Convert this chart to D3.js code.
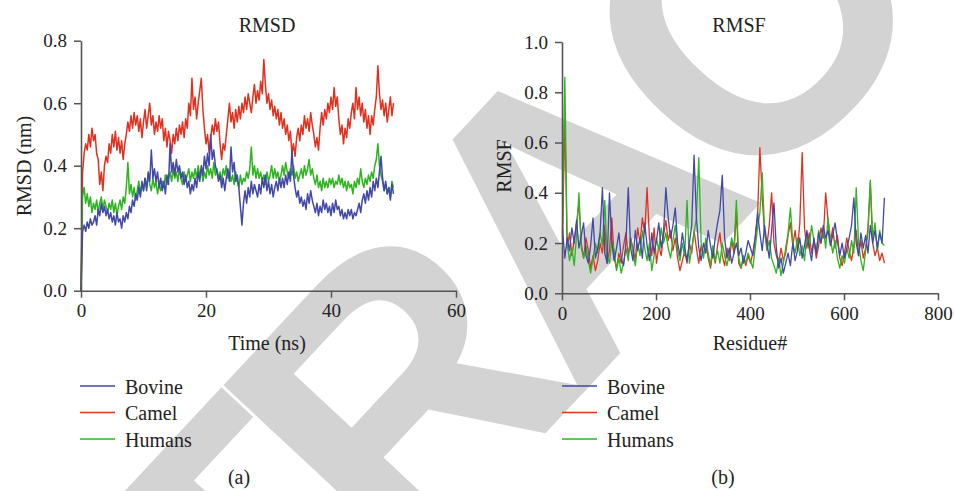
<!DOCTYPE html>
<html>
<head>
<meta charset="utf-8">
<script src="https://cdn.jsdelivr.net/npm/d3@7"></script>
<style>
  body { margin: 0; background: #fff; }
  svg { display: block; }
</style>
</head>
<body>
<svg id="fig" width="954" height="491"></svg>
<script>
// ---- data ----
const seriesNames = ["Bovine", "Camel", "Humans"];

// RMSD, one value every 0.25 ns from 0 to 50 ns
const rmsdStep = 0.25;
const rmsdBovine = [
  0.00, 0.19, 0.21, 0.19, 0.22,
  0.20, 0.23, 0.21, 0.22,  0.24, 0.21, 0.26, 0.24,  0.28, 0.25, 0.27, 0.24,
  0.26, 0.23, 0.25, 0.22,  0.24, 0.21, 0.25, 0.22,  0.23, 0.20, 0.24, 0.22,
  0.25, 0.23, 0.27, 0.25,  0.29, 0.27, 0.31, 0.29,  0.33, 0.30, 0.35, 0.32,
  0.36, 0.32, 0.38, 0.35,  0.45, 0.36, 0.39, 0.35,  0.38, 0.33, 0.36, 0.32,
  0.35, 0.31, 0.37, 0.34,  0.47, 0.38, 0.41, 0.37,  0.42, 0.38, 0.40, 0.36,
  0.38, 0.34, 0.37, 0.33,  0.35, 0.31, 0.34, 0.32,  0.36, 0.33, 0.38, 0.35,
  0.40, 0.37, 0.43, 0.39,  0.44, 0.40, 0.50, 0.42,  0.45, 0.40, 0.38, 0.35,
  0.37, 0.33, 0.36, 0.32,  0.36, 0.39, 0.35, 0.46,  0.38, 0.41, 0.35, 0.37,
  0.33, 0.27, 0.21, 0.28,  0.32, 0.28, 0.33, 0.30,  0.35, 0.31, 0.34, 0.32,
  0.30, 0.34, 0.31, 0.36,  0.33, 0.37, 0.32, 0.35,  0.31, 0.34, 0.30, 0.33,
  0.35, 0.32, 0.36, 0.33,  0.36, 0.33, 0.37, 0.34,  0.38, 0.35, 0.45, 0.37,
  0.33, 0.30, 0.32, 0.28,  0.30, 0.27, 0.29, 0.26,  0.31, 0.28, 0.32, 0.29,
  0.27, 0.25, 0.28, 0.24,  0.27, 0.25, 0.29, 0.26,  0.28, 0.25, 0.27, 0.24,
  0.28, 0.25, 0.29, 0.26,  0.27, 0.24, 0.26, 0.23,  0.25, 0.23, 0.26, 0.24,
  0.26, 0.23, 0.25, 0.24,  0.26, 0.28, 0.25, 0.29,  0.31, 0.28, 0.32, 0.29,
  0.33, 0.30, 0.35, 0.32,  0.36, 0.33, 0.38, 0.43,  0.36, 0.32, 0.35, 0.31,
  0.33, 0.29, 0.34, 0.31
];
const rmsdCamel = [
  0.00, 0.38, 0.44, 0.47, 0.45,
  0.50, 0.46, 0.52, 0.48,  0.50, 0.44, 0.42, 0.34,  0.38, 0.32, 0.40, 0.43,
  0.41, 0.47, 0.44, 0.50,  0.46, 0.51, 0.45, 0.49,  0.44, 0.48, 0.42, 0.47,
  0.50, 0.54, 0.51, 0.56,  0.52, 0.57, 0.53, 0.56,  0.51, 0.55, 0.49, 0.54,
  0.58, 0.52, 0.56, 0.60,  0.53, 0.56, 0.50, 0.54,  0.51, 0.56, 0.52, 0.55,
  0.48, 0.52, 0.46, 0.51,  0.48, 0.44, 0.50, 0.47,  0.52, 0.48, 0.53, 0.50,
  0.54, 0.49, 0.55, 0.52,  0.60, 0.56, 0.68, 0.58,  0.62, 0.55, 0.60, 0.64,
  0.68, 0.58, 0.52, 0.47,  0.50, 0.44, 0.49, 0.53,  0.50, 0.55, 0.51, 0.54,
  0.47, 0.42, 0.47, 0.45,  0.50, 0.55, 0.60, 0.54,  0.57, 0.52, 0.58, 0.54,
  0.59, 0.55, 0.60, 0.57,  0.62, 0.58, 0.63, 0.60,  0.57, 0.62, 0.66, 0.60,
  0.64, 0.61, 0.67, 0.63,  0.74, 0.66, 0.60, 0.63,  0.58, 0.61, 0.56, 0.59,
  0.55, 0.58, 0.53, 0.57,  0.52, 0.55, 0.50, 0.53,  0.48, 0.51, 0.44, 0.47,
  0.43, 0.49, 0.52, 0.48,  0.53, 0.50, 0.56, 0.52,  0.55, 0.51, 0.57, 0.53,
  0.50, 0.46, 0.49, 0.45,  0.52, 0.57, 0.53, 0.58,  0.55, 0.60, 0.57, 0.62,
  0.58, 0.65, 0.59, 0.62,  0.55, 0.50, 0.53, 0.47,  0.52, 0.49, 0.55, 0.52,
  0.57, 0.60, 0.55, 0.65,  0.58, 0.62, 0.56, 0.60,  0.54, 0.58, 0.52, 0.56,
  0.50, 0.56, 0.53, 0.58,  0.62, 0.72, 0.63, 0.58,  0.61, 0.56, 0.60, 0.54,
  0.58, 0.62, 0.56, 0.60
];
const rmsdHumans = [
  0.00, 0.30, 0.33, 0.28, 0.31,
  0.27, 0.30, 0.25, 0.28,  0.26, 0.29, 0.25, 0.28,  0.30, 0.26, 0.29, 0.27,
  0.25, 0.28, 0.26, 0.29,  0.25, 0.28, 0.24, 0.27,  0.29, 0.26, 0.30, 0.28,
  0.33, 0.41, 0.31, 0.34,  0.30, 0.33, 0.29, 0.32,  0.35, 0.31, 0.34, 0.32,
  0.36, 0.33, 0.37, 0.34,  0.32, 0.36, 0.33, 0.35,  0.31, 0.34, 0.32, 0.35,
  0.33, 0.37, 0.34, 0.36,  0.38, 0.35, 0.39, 0.36,  0.38, 0.35, 0.39, 0.36,
  0.34, 0.38, 0.35, 0.37,  0.39, 0.35, 0.38, 0.36,  0.39, 0.36, 0.40, 0.37,
  0.39, 0.35, 0.38, 0.36,  0.40, 0.37, 0.39, 0.36,  0.41, 0.37, 0.39, 0.36,
  0.38, 0.35, 0.39, 0.37,  0.40, 0.36, 0.38, 0.35,  0.37, 0.34, 0.38, 0.35,
  0.33, 0.37, 0.34, 0.36,  0.35, 0.38, 0.36, 0.39,  0.46, 0.37, 0.40, 0.36,
  0.39, 0.36, 0.38, 0.35,  0.37, 0.34, 0.38, 0.35,  0.37, 0.40, 0.36, 0.39,
  0.36, 0.38, 0.35, 0.37,  0.40, 0.37, 0.41, 0.38,  0.36, 0.39, 0.37, 0.40,
  0.36, 0.38, 0.35, 0.37,  0.39, 0.36, 0.40, 0.37,  0.39, 0.42, 0.37, 0.39,
  0.36, 0.34, 0.37, 0.33,  0.35, 0.32, 0.36, 0.33,  0.35, 0.33, 0.36, 0.34,
  0.36, 0.33, 0.35, 0.34,  0.37, 0.34, 0.36, 0.33,  0.35, 0.32, 0.35, 0.33,
  0.34, 0.31, 0.35, 0.33,  0.36, 0.34, 0.39, 0.35,  0.33, 0.36, 0.34, 0.37,
  0.35, 0.38, 0.36, 0.40,  0.42, 0.47, 0.40, 0.37,  0.35, 0.32, 0.34, 0.31,
  0.33, 0.30, 0.35, 0.33
];

// RMSF, one value every 5 residues starting at residue 1
const rmsfStart = 1;
const rmsfStep = 5;
const rmsfBovine = [
  0.26, 0.14, 0.22, 0.17, 0.26, 0.20, 0.29, 0.18, 0.23, 0.28,
  0.15, 0.12, 0.19, 0.30, 0.14, 0.18, 0.24, 0.42, 0.16, 0.12,
  0.40, 0.20, 0.13, 0.18, 0.24, 0.14, 0.11, 0.20, 0.42, 0.18,
  0.13, 0.25, 0.17, 0.22, 0.14, 0.28, 0.19, 0.13, 0.24, 0.16,
  0.21, 0.28, 0.18, 0.24, 0.42, 0.30, 0.22, 0.27, 0.34, 0.20,
  0.15, 0.24, 0.18, 0.13, 0.20, 0.27, 0.55, 0.30, 0.18, 0.13,
  0.20, 0.16, 0.25, 0.19, 0.14, 0.22, 0.28, 0.33, 0.47, 0.22,
  0.14, 0.18, 0.12, 0.16, 0.20, 0.15, 0.18, 0.12, 0.16, 0.21,
  0.18, 0.15, 0.22, 0.32, 0.24, 0.17, 0.27, 0.20, 0.14, 0.25,
  0.36, 0.18, 0.10, 0.14, 0.08, 0.12, 0.16, 0.11, 0.20, 0.13,
  0.17, 0.22, 0.14, 0.19, 0.25, 0.18, 0.13, 0.22, 0.16, 0.24,
  0.20, 0.27, 0.22, 0.25, 0.19, 0.23, 0.28, 0.21, 0.15, 0.20,
  0.14, 0.18, 0.22, 0.27, 0.38, 0.20, 0.15, 0.24, 0.18, 0.23,
  0.16, 0.27, 0.20, 0.25, 0.18, 0.24, 0.20, 0.38
];
const rmsfCamel = [
  0.22, 0.71, 0.18, 0.24, 0.15, 0.21, 0.28, 0.36, 0.20, 0.14,
  0.22, 0.17, 0.10, 0.15, 0.09, 0.13, 0.20, 0.16, 0.27, 0.12,
  0.17, 0.30, 0.14, 0.10, 0.16, 0.12, 0.19, 0.24, 0.15, 0.22,
  0.18, 0.13, 0.26, 0.20, 0.30, 0.24, 0.42, 0.22, 0.15, 0.26,
  0.12, 0.19, 0.15, 0.23, 0.29, 0.21, 0.25, 0.17, 0.22, 0.14,
  0.09, 0.13, 0.17, 0.12, 0.20, 0.16, 0.25, 0.18, 0.12, 0.19,
  0.15, 0.21, 0.14, 0.10, 0.17, 0.12, 0.19, 0.24, 0.15, 0.11,
  0.18, 0.13, 0.21, 0.16, 0.33, 0.12, 0.10, 0.14, 0.11, 0.15,
  0.12, 0.16, 0.22, 0.30, 0.58, 0.38, 0.24, 0.19, 0.27, 0.40,
  0.20, 0.15, 0.12, 0.18, 0.13, 0.16, 0.23, 0.28, 0.19, 0.25,
  0.17, 0.28, 0.56, 0.26, 0.18, 0.24, 0.16, 0.21, 0.14, 0.19,
  0.26, 0.22, 0.40, 0.29, 0.20, 0.26, 0.18, 0.23, 0.14, 0.11,
  0.16, 0.22, 0.17, 0.13, 0.19, 0.25, 0.15, 0.21, 0.14, 0.18,
  0.26, 0.44, 0.20, 0.15, 0.18, 0.13, 0.16, 0.12
];
const rmsfHumans = [
  0.24, 0.86, 0.20, 0.13, 0.18, 0.11, 0.23, 0.40, 0.18, 0.14,
  0.19, 0.13, 0.08, 0.14, 0.20, 0.16, 0.24, 0.19, 0.37, 0.15,
  0.12, 0.21, 0.17, 0.09, 0.14, 0.08, 0.12, 0.18, 0.13, 0.22,
  0.16, 0.11, 0.20, 0.15, 0.25, 0.18, 0.13, 0.20, 0.09, 0.15,
  0.22, 0.17, 0.26, 0.20, 0.24, 0.18, 0.14, 0.21, 0.27, 0.17,
  0.13, 0.20, 0.15, 0.37, 0.12, 0.18, 0.24, 0.30, 0.54, 0.20,
  0.14, 0.22, 0.16, 0.11, 0.19, 0.13, 0.17, 0.12, 0.20, 0.15,
  0.11, 0.16, 0.22, 0.18, 0.37, 0.14, 0.10, 0.15, 0.12, 0.16,
  0.13, 0.10, 0.18, 0.26, 0.32, 0.48, 0.25, 0.17, 0.21, 0.14,
  0.11, 0.08, 0.14, 0.07, 0.12, 0.18, 0.24, 0.34, 0.20, 0.16,
  0.22, 0.15, 0.19, 0.13, 0.24, 0.18, 0.27, 0.21, 0.16, 0.25,
  0.20, 0.26, 0.18, 0.30, 0.22, 0.16, 0.21, 0.14, 0.10, 0.15,
  0.12, 0.18, 0.14, 0.21, 0.16, 0.42, 0.20, 0.13, 0.09, 0.17,
  0.24, 0.45, 0.22, 0.28, 0.17, 0.25, 0.20, 0.19
];

// axis ticks
const rmsdTicksX = [0, 20, 40, 60];
const rmsdTicksY = [0, 0.2, 0.4, 0.6, 0.8];
const rmsfTicksX = [0, 200, 400, 600, 800];
const rmsfTicksY = [0, 0.2, 0.4, 0.6, 0.8, 1.0];

// ---- styles ----
const colors = { Bovine: "#4148a8", Camel: "#e2301f", Humans: "#2db41e" };
const drawOrder = ["Camel", "Humans", "Bovine"];
const serif = "'Liberation Serif', 'Times New Roman', serif";
const axisColor = "#555";

const svg = d3.select("#fig");

// watermark, behind everything
svg.append("text")
    .attr("transform", "translate(560,213) rotate(-47)")
    .attr("text-anchor", "middle")
    .attr("dy", "0.358em")
    .attr("font-family", "'Liberation Sans', Arial, sans-serif")
    .attr("font-weight", "bold")
    .attr("font-size", 390)
    .attr("letter-spacing", "-0.07em")
    .attr("fill", "#d3d3d3")
    .text("RETRACTED");

// one panel = axes + lines + legend
function drawPanel(cfg) {
    const x = d3.scaleLinear().domain(cfg.xDomain).range([cfg.left, cfg.right]);
    const y = d3.scaleLinear().domain(cfg.yDomain).range([cfg.bottom, cfg.top]);

    const g = svg.append("g");

    // lines
    const line = d3.line()
        .x((d, i) => x(cfg.x0 + i * cfg.step))
        .y(d => y(d));

    drawOrder.forEach(name => {
        g.append("path")
            .datum(cfg.series[name])
            .attr("fill", "none")
            .attr("stroke", colors[name])
            .attr("stroke-width", cfg.lineWidth)
            .attr("stroke-linejoin", "round")
            .attr("d", line);
    });

    // axes
    const xAxis = g.append("g")
        .attr("transform", `translate(0,${cfg.bottom})`)
        .call(d3.axisBottom(x).tickValues(cfg.ticksX).tickFormat(d3.format("d"))
            .tickSize(7).tickSizeOuter(0).tickPadding(6));
    const yAxis = g.append("g")
        .attr("transform", `translate(${cfg.left},0)`)
        .call(d3.axisLeft(y).tickValues(cfg.ticksY).tickFormat(d3.format(".1f"))
            .tickSize(7).tickSizeOuter(0).tickPadding(7));

    [xAxis, yAxis].forEach(a => {
        a.select(".domain").attr("stroke", axisColor).attr("stroke-width", 1.6);
        a.selectAll(".tick line").attr("stroke", axisColor).attr("stroke-width", 1.5);
        a.selectAll(".tick text")
            .attr("fill", "#222")
            .attr("font-family", serif)
            .attr("font-size", 19);
    });

    // titles
    g.append("text")
        .attr("x", cfg.titleX).attr("y", 32)
        .attr("text-anchor", "middle")
        .attr("font-family", serif).attr("font-size", 20).attr("fill", "#222")
        .text(cfg.title);
    g.append("text")
        .attr("x", cfg.xLabelX).attr("y", 350)
        .attr("text-anchor", "middle")
        .attr("font-family", serif).attr("font-size", 20).attr("fill", "#222")
        .text(cfg.xLabel);
    g.append("text")
        .attr("transform", `translate(${cfg.yLabelX},166) rotate(-90)`)
        .attr("text-anchor", "middle")
        .attr("font-family", serif).attr("font-size", 20).attr("fill", "#222")
        .text(cfg.yLabel);

    // legend
    const lg = g.append("g").attr("transform", `translate(${cfg.legendX},386)`);
    seriesNames.forEach((name, i) => {
        lg.append("line")
            .attr("x1", 0).attr("x2", 35)
            .attr("y1", i * 26.5).attr("y2", i * 26.5)
            .attr("stroke", colors[name]).attr("stroke-width", 1.4);
        lg.append("text")
            .attr("x", 45).attr("y", i * 26.5 + 7.5)
            .attr("font-family", serif).attr("font-size", 20).attr("fill", "#222")
            .text(name);
    });

    // panel letter
    g.append("text")
        .attr("x", cfg.letterX).attr("y", 484)
        .attr("text-anchor", "middle")
        .attr("font-family", serif).attr("font-size", 20).attr("fill", "#222")
        .text(cfg.letter);
}

drawPanel({
    xDomain: [0, 60], yDomain: [0, 0.8],
    left: 81, right: 456, top: 40.7, bottom: 290.7,
    x0: 0, step: rmsdStep, lineWidth: 1.5,
    series: { Bovine: rmsdBovine, Camel: rmsdCamel, Humans: rmsdHumans },
    ticksX: rmsdTicksX, ticksY: rmsdTicksY,
    title: "RMSD", titleX: 267,
    xLabel: "Time (ns)", xLabelX: 267,
    yLabel: "RMSD (nm)", yLabelX: 31,
    legendX: 80, letter: "(a)", letterX: 239
});

drawPanel({
    xDomain: [0, 800], yDomain: [0, 1.0],
    left: 562, right: 938, top: 42, bottom: 293.3,
    x0: rmsfStart, step: rmsfStep, lineWidth: 1.3,
    series: { Bovine: rmsfBovine, Camel: rmsfCamel, Humans: rmsfHumans },
    ticksX: rmsfTicksX, ticksY: rmsfTicksY,
    title: "RMSF", titleX: 739,
    xLabel: "Residue#", xLabelX: 750,
    yLabel: "RMSF", yLabelX: 511,
    legendX: 562, letter: "(b)", letterX: 723
});
</script>
</body>
</html>
